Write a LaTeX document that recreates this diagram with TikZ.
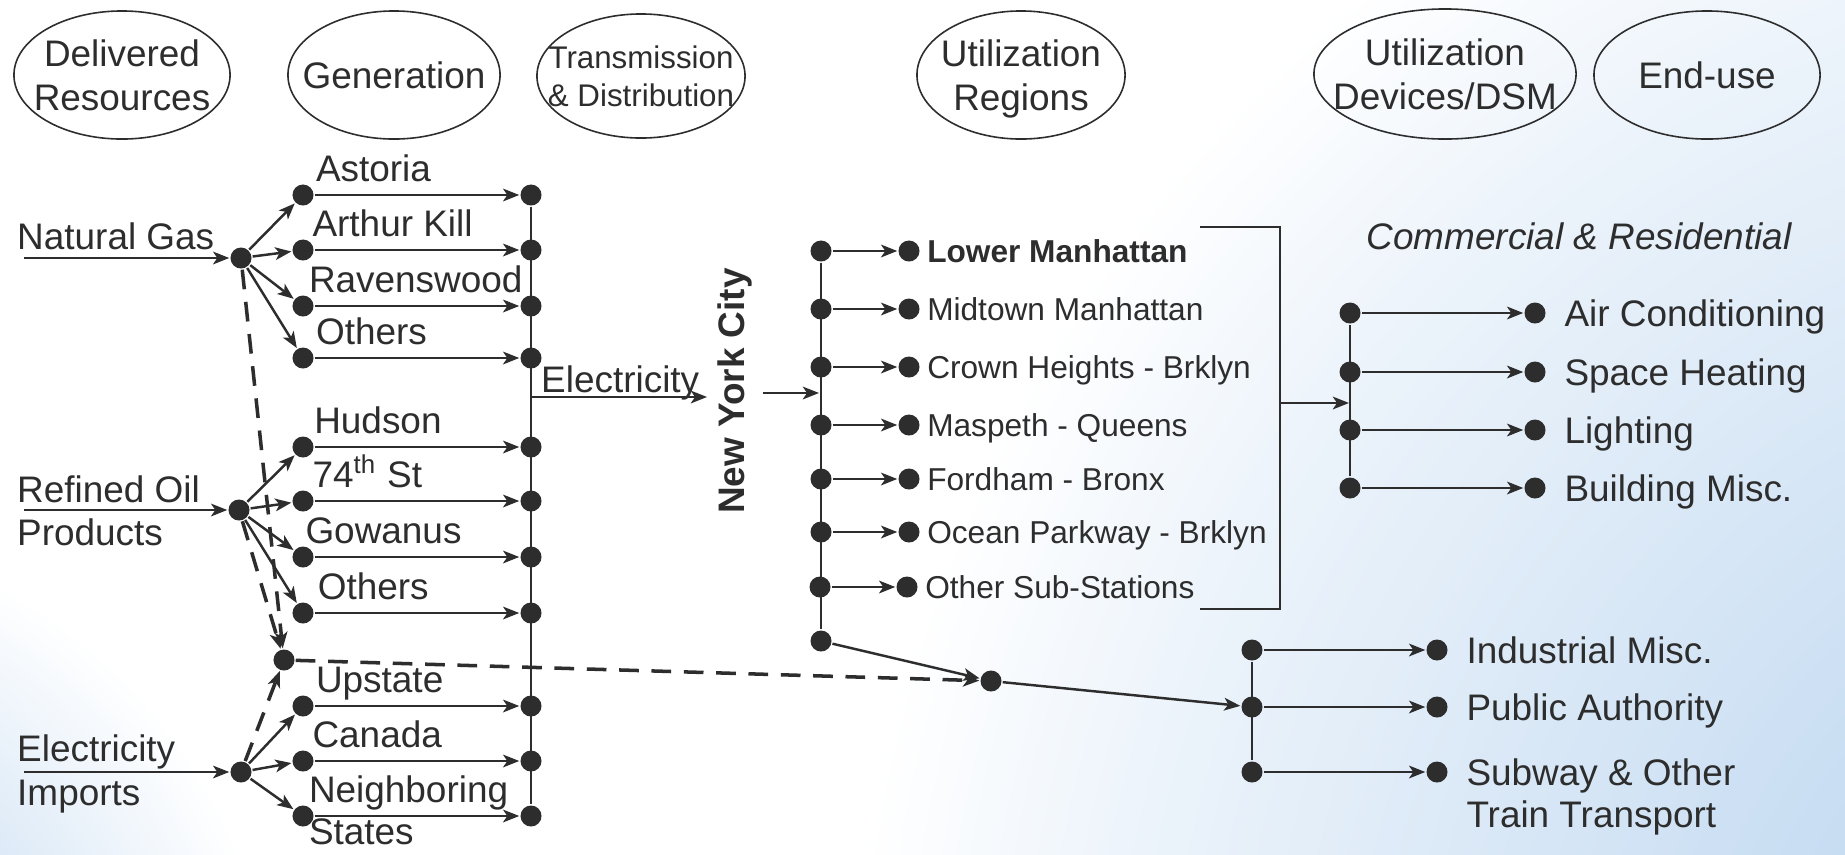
\documentclass[tikz,border=0pt]{standalone}
\usepackage{fontspec}
\setmainfont{Liberation Sans}
\usetikzlibrary{arrows.meta,positioning,calc,shapes.geometric}
\definecolor{ink}{RGB}{45,45,45}
\definecolor{skyblue}{RGB}{198,220,242}
\pgfdeclareradialshading{skyglow}{\pgfpoint{0bp}{0bp}}{color(0bp)=(skyblue); color(6.5bp)=(skyblue); color(18.5bp)=(skyblue!30!white); color(22.5bp)=(white); color(50bp)=(white)}
\pgfdeclareradialshading{cornerglow}{\pgfpoint{0bp}{0bp}}{color(0bp)=(skyblue!75!white); color(11bp)=(skyblue!75!white); color(22bp)=(white); color(50bp)=(white)}

\begin{document}
\begin{tikzpicture}[x=0.01cm, y=-0.01cm, >={Stealth[length=4.6pt,width=3.6pt,inset=1.2pt]},
  font=\fontsize{10.5}{12.4}\selectfont, color=ink, line width=0.7pt,
  hdr/.style={draw, ellipse, line width=0.45pt, inner sep=0pt},
  every label/.style={text depth=0pt},
  pt/.style={circle, fill=ink, inner sep=0pt, minimum size=0.21cm},
  txt/.style={inner sep=0pt, text height=7.5pt, text depth=0pt},
  sub/.style={inner sep=0pt, text height=6.5pt, text depth=0pt, font=\fontsize{9}{11}\selectfont},
  alt/.style={->, line width=1pt, dash pattern=on 5.6pt off 3.6pt}]
  % background
  \fill[white] (0,0) rectangle (1845,854);
  \begin{scope}
    \clip (0,0) rectangle (1845,854);
    \shade[shading=skyglow] (2200,1050) circle [radius=15cm];
    \shade[shading=cornerglow] (-250,1050) circle [radius=6cm];
  \end{scope}
  \useasboundingbox (0,0) rectangle (1845,854);

  % column heads
  \node[hdr, minimum width=2.16cm, minimum height=1.28cm, label={[align=center]center:{Delivered\\Resources}}] (delv) at (122,75) {};
  \node[hdr, minimum width=2.12cm, minimum height=1.28cm, label=center:Generation] (gen) at (394,75) {};
  \node[hdr, minimum width=2.08cm, minimum height=1.24cm, label={[align=center, font=\fontsize{8.9}{10.7}\selectfont]center:{Transmission\\\& Distribution}}] (tnd) at (641,76) {};
  \node[hdr, minimum width=2.08cm, minimum height=1.28cm, label={[align=center]center:{Utilization\\Regions}}] (ureg) at (1021,75) {};
  \node[hdr, minimum width=2.62cm, minimum height=1.30cm, label={[align=center]center:{Utilization\\Devices/DSM}}] (udev) at (1445,74) {};
  \node[hdr, minimum width=2.26cm, minimum height=1.28cm, label=center:End-use] (euse) at (1707,75) {};

  % delivered resources
  \node[txt, anchor=base west] (ng) at (16,249) {Natural Gas};
  \coordinate (ngin) at (24,258);
  \node[pt] (ngs) at (241,258) {};
  \node[txt, anchor=base west] (ro1) at (16,502) {Refined Oil};
  \node[txt, anchor=base west] (ro2) at (16,545) {Products};
  \coordinate (roin) at (24,510);
  \node[pt] (ros) at (239,510) {};
  \node[txt, anchor=base west] (ei1) at (16,761) {Electricity};
  \node[txt, anchor=base west] (ei2) at (16,805) {Imports};
  \coordinate (eiin) at (24,772);
  \node[pt] (eis) at (241,772) {};
  \draw[->] (ngin) -- (ngs); \draw[->] (roin) -- (ros); \draw[->] (eiin) -- (eis);

  % generation
  \node[pt] (g1) at (303,195) {};  \node[pt] (t1) at (531,195) {};
  \node[pt] (g2) at (303,250) {};  \node[pt] (t2) at (531,250) {};
  \node[pt] (g3) at (303,306) {};  \node[pt] (t3) at (531,306) {};
  \node[pt] (g4) at (303,358) {};  \node[pt] (t4) at (531,358) {};
  \node[pt] (g5) at (303,447) {};  \node[pt] (t5) at (531,447) {};
  \node[pt] (g6) at (303,501) {};  \node[pt] (t6) at (531,501) {};
  \node[pt] (g7) at (303,557) {};  \node[pt] (t7) at (531,557) {};
  \node[pt] (g8) at (303,613) {};  \node[pt] (t8) at (531,613) {};
  \node[pt] (g9) at (303,706) {};  \node[pt] (t9) at (531,706) {};
  \node[pt] (g10) at (303,761) {}; \node[pt] (t10) at (531,761) {};
  \node[pt] (g11) at (303,816) {}; \node[pt] (t11) at (531,816) {};
  \node[txt, above right=1pt and 1pt of g1] {Astoria};
  \node[txt, above right=1pt and 0pt of g2] {Arthur Kill};
  \node[txt, above right=1pt and -1pt of g3] {Ravenswood};
  \node[txt, above right=1pt and 1pt of g4] {Others};
  \node[txt, above right=1pt and 0.5pt of g5] {Hudson};
  \node[txt, above right=1pt and 0pt of g6] {74\textsuperscript{th} St};
  \node[txt, above right=1pt and -2pt of g7] {Gowanus};
  \node[txt, above right=1pt and 1.5pt of g8] {Others};
  \node[txt, above right=1pt and 1pt of g9] {Upstate};
  \node[txt, above right=1pt and 0pt of g10] {Canada};
  \node[txt, above right=1pt and -1pt of g11] {Neighboring};
  \node[txt, below right=-2pt and -1pt of g11] {States};
  \draw[->] (ngs) -- (g1); \draw[->] (ngs) -- (g2); \draw[->] (ngs) -- (g3); \draw[->] (ngs) -- (g4);
  \draw[->] (ros) -- (g5); \draw[->] (ros) -- (g6); \draw[->] (ros) -- (g7); \draw[->] (ros) -- (g8);
  \draw[->] (eis) -- (g9); \draw[->] (eis) -- (g10); \draw[->] (eis) -- (g11);
  \draw[->] (g1) -- (t1); \draw[->] (g2) -- (t2); \draw[->] (g3) -- (t3); \draw[->] (g4) -- (t4);
  \draw[->] (g5) -- (t5); \draw[->] (g6) -- (t6); \draw[->] (g7) -- (t7); \draw[->] (g8) -- (t8);
  \draw[->] (g9) -- (t9); \draw[->] (g10) -- (t10); \draw[->] (g11) -- (t11);

  % fuel switching
  \node[pt] (mix) at (284,660) {};
  \draw[alt] (ngs) -- (mix); \draw[alt] (ros) -- (mix); \draw[alt] (eis) -- (mix);

  % transmission & distribution
  \draw (t1) -- (t11);
  \coordinate (tdo) at (531,397);
  \coordinate (nyi) at (707,397);
  \draw[->] (tdo) -- (nyi);
  \node[txt, anchor=base west] (elec) at (540,392) {Electricity};

  % utilization regions
  \node[font=\fontsize{10.5}{12}\selectfont\bfseries, rotate=90, inner sep=0pt] (nyc) at (735,391) {New York City};
  \coordinate (nyo) at (763,393);
  \coordinate (nybus) at (819,393);
  \draw[->] (nyo) -- (nybus);
  \node[pt] (rl1) at (821,251) {}; \node[pt] (rr1) at (909,251) {};
  \node[pt] (rl2) at (821,309) {}; \node[pt] (rr2) at (909,309) {};
  \node[pt] (rl3) at (821,367) {}; \node[pt] (rr3) at (909,367) {};
  \node[pt] (rl4) at (821,425) {}; \node[pt] (rr4) at (909,425) {};
  \node[pt] (rl5) at (821,479) {}; \node[pt] (rr5) at (909,479) {};
  \node[pt] (rl6) at (821,532) {}; \node[pt] (rr6) at (909,532) {};
  \node[pt] (rl7) at (820,587) {}; \node[pt] (rr7) at (907,587) {};
  \node[pt] (nyb) at (821,641) {};
  \draw (rl1) -- (nyb);
  \draw[->] (rl1) -- (rr1); \draw[->] (rl2) -- (rr2); \draw[->] (rl3) -- (rr3); \draw[->] (rl4) -- (rr4);
  \draw[->] (rl5) -- (rr5); \draw[->] (rl6) -- (rr6); \draw[->] (rl7) -- (rr7);
  \node[sub, right=1.5pt of rr1, font=\fontsize{9}{11}\selectfont\bfseries] (reg1) {Lower Manhattan};
  \node[sub, right=1.5pt of rr2] (reg2) {Midtown Manhattan};
  \node[sub, right=1.5pt of rr3] (reg3) {Crown Heights - Brklyn};
  \node[sub, right=1.5pt of rr4] (reg4) {Maspeth - Queens};
  \node[sub, right=1.5pt of rr5] (reg5) {Fordham - Bronx};
  \node[sub, right=1.5pt of rr6] (reg6) {Ocean Parkway - Brklyn};
  \node[sub, right=1.5pt of rr7] (reg7) {Other Sub-Stations};
  \coordinate (brt) at (1200,227);
  \coordinate (brb) at (1200,609);
  \draw (brt) -- ++(80,0) |- (brb);

  % commercial & residential
  \node[font=\fontsize{10.5}{12}\selectfont\itshape, anchor=base, inner sep=0pt] (comres) at (1579,249) {Commercial \& Residential};
  \node[pt] (cl1) at (1350,313) {}; \node[pt] (cr1) at (1535,313) {};
  \node[pt] (cl2) at (1350,372) {}; \node[pt] (cr2) at (1535,372) {};
  \node[pt] (cl3) at (1350,430) {}; \node[pt] (cr3) at (1535,430) {};
  \node[pt] (cl4) at (1350,488) {}; \node[pt] (cr4) at (1535,488) {};
  \coordinate (brm) at (1280,403);
  \coordinate (cbin) at (1349,403);
  \draw[->] (brm) -- (cbin);
  \draw (cl1) -- (cl4);
  \draw[->] (cl1) -- (cr1); \draw[->] (cl2) -- (cr2); \draw[->] (cl3) -- (cr3); \draw[->] (cl4) -- (cr4);
  \node[txt, right=4.7pt of cr1] (eu1) {Air Conditioning};
  \node[txt, right=4.7pt of cr2] (eu2) {Space Heating};
  \node[txt, right=4.7pt of cr3] (eu3) {Lighting};
  \node[txt, right=4.7pt of cr4] (eu4) {Building Misc.};

  % industrial & transport
  \node[pt] (jx) at (991,681) {};
  \node[pt] (il1) at (1252,650) {}; \node[pt] (ir1) at (1437,650) {};
  \node[pt] (il2) at (1252,707) {}; \node[pt] (ir2) at (1437,707) {};
  \node[pt] (il3) at (1252,772) {}; \node[pt] (ir3) at (1437,772) {};
  \draw[alt] (mix) -- (jx);
  \draw[->] (nyb) -- (jx); \draw[->] (jx) -- (il2);
  \draw (il1) -- (il3);
  \draw[->] (il1) -- (ir1); \draw[->] (il2) -- (ir2); \draw[->] (il3) -- (ir3);
  \node[txt, right=4.7pt of ir1] (eu5) {Industrial Misc.};
  \node[txt, right=4.7pt of ir2] (eu6) {Public Authority};
  \node[txt, right=4.7pt of ir3] (eu7) {Subway \& Other};
  \node[txt, anchor=base west] (eu8) at ($(eu7.base west)+(0,42)$) {Train Transport};
\end{tikzpicture}
\end{document}
